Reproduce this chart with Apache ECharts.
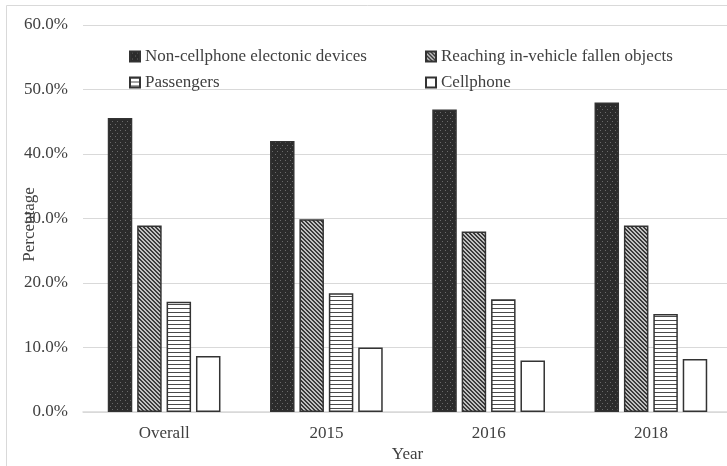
<!DOCTYPE html>
<html>
<head>
<meta charset="utf-8">
<script src="https://cdn.jsdelivr.net/npm/echarts@6/dist/echarts.min.js"></script>
<style>
  html, body { margin: 0; padding: 0; background: #fff; }
  #chart { width: 727px; height: 466px; }
</style>
</head>
<body>
<div id="chart"></div>
<script>
// data (percent)
var categories = ['Overall', '2015', '2016', '2018'];
var seriesNames = ['Non-cellphone electonic devices', 'Reaching in-vehicle fallen objects', 'Passengers', 'Cellphone'];
var nonCellphone = [45.6, 42.0, 46.9, 48.0];
var reaching = [28.9, 29.9, 28.0, 28.9];
var passengers = [17.1, 18.4, 17.5, 15.2];
var cellphone = [8.7, 10.0, 8.0, 8.2];
var yTicks = { min: 0, max: 60, interval: 10 };

// fill patterns like the excel ones
function makePattern(kind) {
    var c = document.createElement('canvas');
    var ctx = c.getContext('2d');
    if (kind === 'dots') {
        c.width = 5; c.height = 6;
        ctx.fillStyle = '#2b2b2b';
        ctx.fillRect(0, 0, 5, 6);
        ctx.fillStyle = '#6a6a6a';
        ctx.fillRect(2, 1, 1, 1);
        ctx.fillRect(0, 4, 1, 1);
    } else if (kind === 'diag') {
        c.width = 4; c.height = 4;
        ctx.fillStyle = '#c0c0c0';
        ctx.fillRect(0, 0, 4, 4);
        ctx.fillStyle = '#3a3a3a';
        for (var i = 0; i < 4; i++) {
            ctx.fillRect(i, i, 1, 1);
            ctx.fillRect((i + 1) % 4, i, 1, 1);
        }
    } else if (kind === 'hlines') {
        c.width = 4; c.height = 4;
        ctx.fillStyle = '#ffffff';
        ctx.fillRect(0, 0, 4, 4);
        ctx.fillStyle = '#4a4a4a';
        ctx.fillRect(0, 0, 4, 1);
    } else {
        c.width = 2; c.height = 2;
        ctx.fillStyle = '#ffffff';
        ctx.fillRect(0, 0, 2, 2);
    }
    return { image: c, repeat: 'repeat' };
}

var myChart = echarts.init(document.getElementById('chart'));
var fontFamily = '"Liberation Serif", "Times New Roman", serif';
var textColor = '#404040';
var fontSize = 17;

function barSeries(name, data, kind) {
    return {
        name: name,
        type: 'bar',
        barWidth: 24.5,
        barGap: '20%',
        data: data,
        itemStyle: {
            color: makePattern(kind),
            borderColor: '#333333',
            borderWidth: 1.5
        }
    };
}

function legendCol(names, left) {
    return {
        data: names,
        orient: 'vertical',
        left: left,
        top: 43,
        icon: 'rect',
        itemWidth: 10,
        itemHeight: 10,
        itemGap: 9,
        textStyle: { fontFamily: fontFamily, fontSize: fontSize, color: textColor }
    };
}

var option = {
    animation: false,
    textStyle: { fontFamily: fontFamily },
    graphic: [{
        type: 'rect',
        shape: { x: 6.5, y: 5.5, width: 760, height: 500 },
        style: { fill: 'none', stroke: '#d9d9d9', lineWidth: 1 },
        silent: true,
        z: -1
    }],
    legend: [
        legendCol([seriesNames[0], seriesNames[2]], 124),
        legendCol([seriesNames[1], seriesNames[3]], 420)
    ],
    grid: {
        left: 83,
        right: -5,
        top: 25,
        bottom: 54,
        outerBoundsMode: 'none'
    },
    xAxis: {
        type: 'category',
        data: categories,
        name: 'Year',
        nameLocation: 'middle',
        nameGap: 34,
        nameMoveOverlap: false,
        nameTextStyle: { fontFamily: fontFamily, fontSize: fontSize, color: textColor },
        axisLine: { lineStyle: { color: '#d9d9d9', width: 1.5 } },
        axisTick: { show: false },
        axisLabel: { margin: 13, fontFamily: fontFamily, fontSize: fontSize, color: textColor }
    },
    yAxis: {
        type: 'value',
        min: yTicks.min,
        max: yTicks.max,
        interval: yTicks.interval,
        name: 'Percentage',
        nameLocation: 'middle',
        nameGap: 45,
        nameMoveOverlap: false,
        nameTextStyle: { fontFamily: fontFamily, fontSize: fontSize, color: textColor, padding: [0, 12, 0, 0] },
        axisLine: { show: false },
        axisTick: { show: false },
        splitLine: { lineStyle: { color: '#d9d9d9', width: 1.2 } },
        axisLabel: {
            margin: 15,
            fontFamily: fontFamily,
            fontSize: fontSize,
            color: textColor,
            formatter: function (v) { return v.toFixed(1) + '%'; }
        }
    },
    series: [
        barSeries(seriesNames[0], nonCellphone, 'dots'),
        barSeries(seriesNames[1], reaching, 'diag'),
        barSeries(seriesNames[2], passengers, 'hlines'),
        barSeries(seriesNames[3], cellphone, 'plain')
    ]
};

myChart.setOption(option);
</script>
</body>
</html>
